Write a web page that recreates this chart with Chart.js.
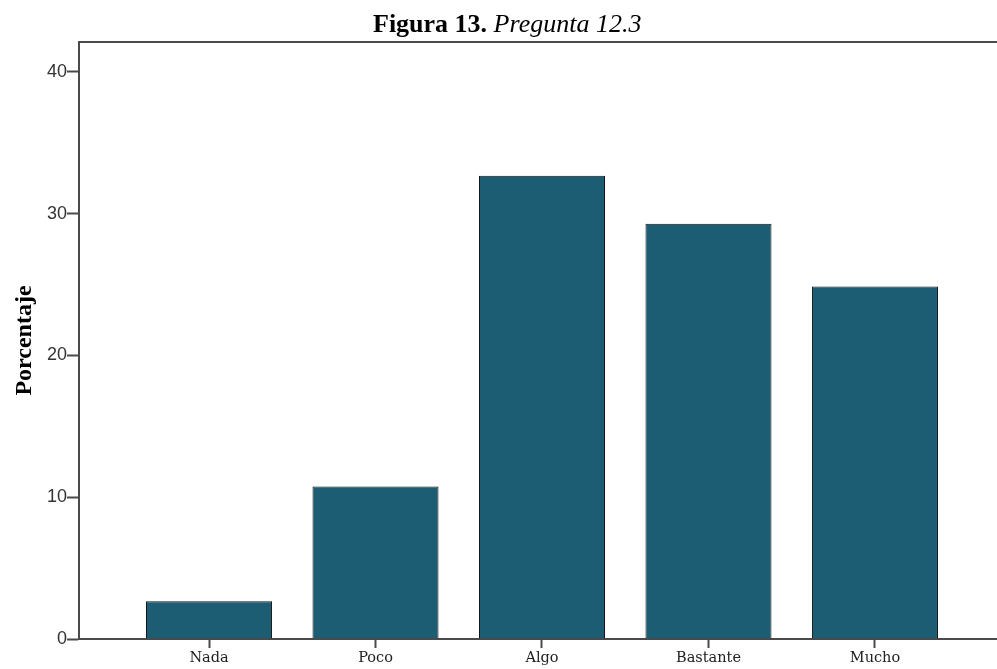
<!DOCTYPE html>
<html>
<head>
<meta charset="utf-8">
<script src="https://cdn.jsdelivr.net/npm/chart.js@4"></script>
<style>
  html, body { margin: 0; padding: 0; background: #fff; }
  #wrap { position: relative; width: 997px; height: 669px; }
  #title {
    position: absolute; left: 373px; top: 11px;
    font-family: "Liberation Serif", "Times New Roman", serif;
    font-size: 26px; line-height: 26px; color: #000; white-space: nowrap;
  }
  #title b { font-weight: bold; }
  #title i { font-style: italic; }
</style>
</head>
<body>
<div id="wrap">
  <canvas id="chart" width="997" height="669"></canvas>
  <div id="title"><b>Figura 13.</b> <i>Pregunta 12.3</i></div>
</div>
<script>
const categories = ['Nada', 'Poco', 'Algo', 'Bastante', 'Mucho'];
const percentages = [2.66, 10.75, 32.67, 29.29, 24.86];
const yTicks = [0, 10, 20, 30, 40];
const yLabel = 'Porcentaje';

const axisColor = '#4a4a4a';

// top frame line, as in the SPSS output
const topFrame = {
  id: 'topFrame',
  afterDraw(chart) {
    const { ctx, chartArea } = chart;
    ctx.save();
    ctx.strokeStyle = axisColor;
    ctx.lineWidth = 2;
    ctx.beginPath();
    ctx.moveTo(chartArea.left - 1, chartArea.top);
    ctx.lineTo(chartArea.right, chartArea.top);
    ctx.stroke();
    ctx.restore();
  },
};

new Chart(document.getElementById('chart'), {
  type: 'bar',
  data: {
    datasets: [
      {
        data: categories.map((c, i) => ({ x: i, y: percentages[i] })),
        backgroundColor: '#1d5d73',
        borderColor: '#141414',
        borderWidth: 1,
        barPercentage: 0.757,
        categoryPercentage: 1,
      },
    ],
  },
  options: {
    responsive: false,
    animation: false,
    layout: { padding: { top: 42, right: 0, left: 0, bottom: 0 } },
    plugins: {
      legend: { display: false },
      tooltip: { enabled: false },
    },
    scales: {
      x: {
        type: 'linear',
        min: -0.781,
        max: 4.733,
        offset: false,
        afterFit(scale) { scale.height = 30; },
        afterBuildTicks(scale) {
          scale.ticks = categories.map((c, i) => ({ value: i }));
        },
        ticks: {
          autoSkip: false,
          maxRotation: 0,
          padding: 2,
          color: '#222',
          font: { family: 'DejaVu Serif', size: 14.5 },
          callback: (v) => categories[v],
        },
        grid: {
          offset: false,
          drawOnChartArea: false,
          drawTicks: true,
          tickLength: 9,
          tickWidth: 2,
          tickColor: axisColor,
        },
        border: { display: true, color: axisColor, width: 2 },
      },
      y: {
        min: 0,
        max: 42.1,
        afterFit(scale) { scale.width = 79; },
        afterBuildTicks(scale) {
          scale.ticks = yTicks.map((v) => ({ value: v }));
        },
        ticks: {
          padding: 0,
          color: '#333',
          font: { family: 'Liberation Sans', size: 18 },
        },
        grid: {
          drawOnChartArea: false,
          drawTicks: true,
          tickLength: 12,
          tickWidth: 2,
          tickColor: axisColor,
        },
        border: { display: true, color: axisColor, width: 2 },
        title: {
          display: true,
          text: yLabel,
          color: '#000',
          padding: { top: 10, bottom: 0 },
          font: { family: 'Liberation Serif', size: 24, weight: 'bold' },
        },
      },
    },
  },
  plugins: [topFrame],
});
</script>
</body>
</html>
